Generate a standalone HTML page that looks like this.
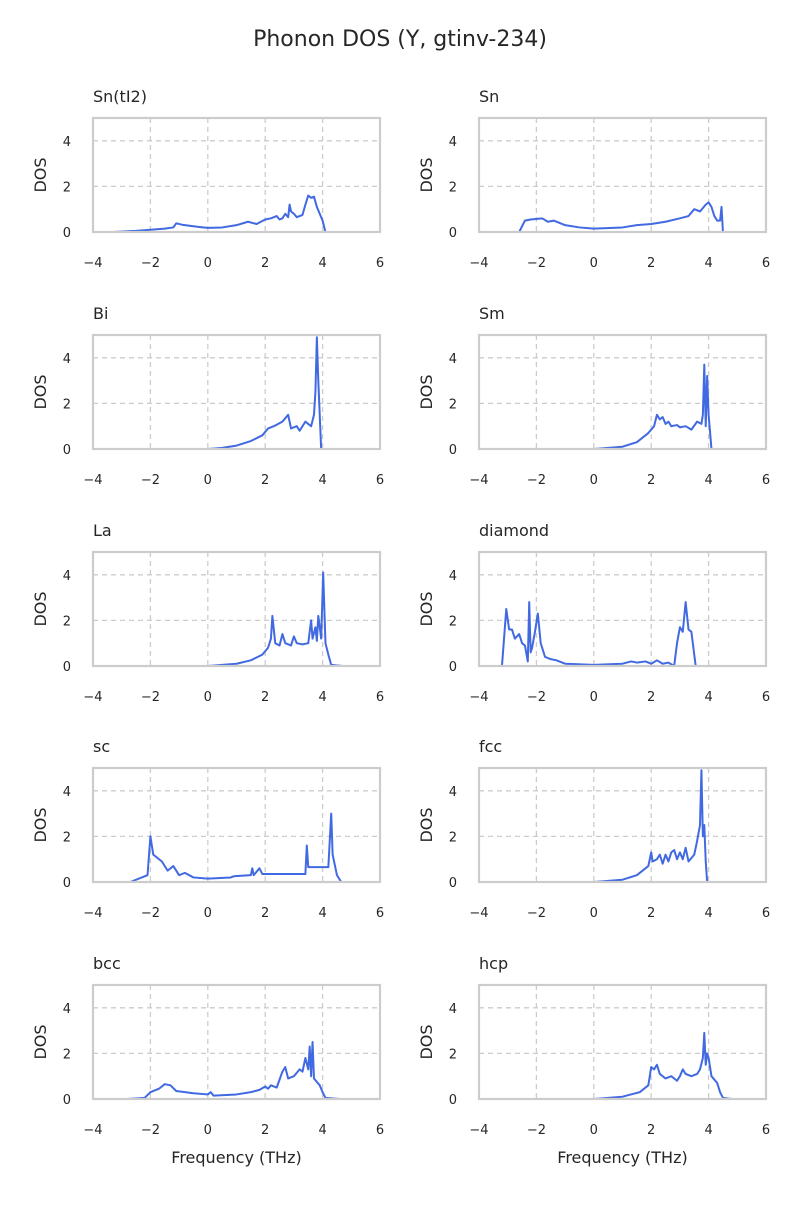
<!DOCTYPE html>
<html><head><meta charset="utf-8"><style>
body{margin:0;background:#fff;font-family:"Liberation Sans","DejaVu Sans",sans-serif}
svg text{font-family:"DejaVu Sans","Liberation Sans",sans-serif;fill:#262626}
</style></head><body>
<svg id="c" width="800" height="1200">
<text x="400" y="46" text-anchor="middle" font-size="22">Phonon DOS (Y, gtinv-234)</text>
</svg>
<script>
const panelNames=["Sn(tI2)","Sn","Bi","Sm","La","diamond","sc","fcc","bcc","hcp"];
const xTicks=[-4,-2,0,2,4,6];
const yTicks=[0,2,4];
const freqSnTI2=[-3.3,-2.5,-1.5,-1.2,-1.1,-0.9,-0.5,-0.3,0,0.5,1,1.4,1.7,2.0,2.2,2.4,2.5,2.6,2.7,2.8,2.85,2.9,3.0,3.1,3.3,3.4,3.5,3.6,3.7,3.8,3.9,4.0,4.1];
const dosSnTI2=[0,0.05,0.15,0.2,0.38,0.32,0.25,0.22,0.18,0.2,0.3,0.45,0.35,0.55,0.6,0.7,0.55,0.6,0.8,0.65,1.2,0.9,0.8,0.65,0.75,1.2,1.6,1.5,1.55,1.1,0.8,0.5,0];
const freqSn=[-2.6,-2.4,-2.2,-1.8,-1.6,-1.4,-1.0,-0.5,0,1,1.5,2,2.5,3,3.3,3.5,3.7,3.9,4.0,4.1,4.2,4.3,4.4,4.45,4.5];
const dosSn=[0,0.5,0.55,0.6,0.45,0.5,0.3,0.2,0.15,0.2,0.3,0.35,0.45,0.6,0.7,1.0,0.9,1.2,1.3,1.1,0.7,0.5,0.5,1.1,0];
const freqBi=[0,0.5,1,1.5,1.9,2.1,2.3,2.6,2.8,2.9,3.1,3.2,3.4,3.5,3.6,3.7,3.75,3.8,3.85,3.9,3.95];
const dosBi=[0,0.05,0.15,0.35,0.6,0.9,1.0,1.2,1.5,0.9,1.0,0.8,1.2,1.1,1.0,1.5,2.5,4.9,3.0,1.5,0];
const freqSm=[0,1,1.5,1.9,2.1,2.2,2.3,2.4,2.5,2.6,2.7,2.9,3.0,3.2,3.4,3.6,3.75,3.8,3.85,3.9,3.95,4.0,4.1];
const dosSm=[0,0.1,0.3,0.7,1.0,1.5,1.3,1.4,1.1,1.2,1.0,1.05,0.95,1.0,0.85,1.2,1.1,1.5,3.7,1.0,3.2,1.5,0];
const freqLa=[0,1,1.5,1.9,2.1,2.2,2.25,2.35,2.5,2.6,2.7,2.9,3.0,3.1,3.3,3.5,3.6,3.65,3.75,3.8,3.85,3.95,4.02,4.1,4.2,4.3,4.7];
const dosLa=[0,0.1,0.25,0.5,0.8,1.2,2.2,1.0,0.9,1.4,1.0,0.9,1.3,1.0,0.95,1.0,2.0,1.2,1.7,1.1,2.2,1.2,4.1,1.0,0.5,0.05,0];
const freqDiamond=[-3.9,-3.2,-3.05,-2.95,-2.85,-2.75,-2.6,-2.5,-2.4,-2.3,-2.25,-2.2,-2.15,-2.05,-1.95,-1.85,-1.7,-1.5,-1.3,-1,0,1,1.3,1.5,1.8,2.0,2.2,2.4,2.6,2.8,2.9,3.0,3.1,3.2,3.3,3.4,3.55,4];
const dosDiamond=[0,0,2.5,1.6,1.6,1.2,1.4,1.0,0.9,0.2,2.8,0.6,0.8,1.5,2.3,1.0,0.4,0.3,0.25,0.1,0.05,0.1,0.2,0.15,0.2,0.1,0.25,0.1,0.15,0,1.0,1.7,1.5,2.8,1.6,1.5,0,0];
const freqSc=[-2.7,-2.1,-2.0,-1.9,-1.6,-1.4,-1.2,-1,-0.8,-0.5,0,0.8,0.9,1.5,1.55,1.6,1.8,1.9,3.4,3.45,3.5,4.2,4.3,4.35,4.5,4.65,5.3];
const dosSc=[0,0.3,2.0,1.2,0.9,0.5,0.7,0.3,0.4,0.2,0.15,0.2,0.25,0.3,0.6,0.3,0.6,0.35,0.35,1.6,0.65,0.65,3.0,1.2,0.3,0,0];
const freqFcc=[0,1,1.5,1.9,2.0,2.05,2.2,2.3,2.4,2.5,2.6,2.7,2.8,2.9,3.0,3.1,3.2,3.3,3.5,3.6,3.7,3.75,3.8,3.85,3.9,3.95,4.3];
const dosFcc=[0,0.1,0.3,0.7,1.3,0.9,1.0,1.2,0.8,1.2,0.9,1.3,1.4,1.0,1.3,1.0,1.5,0.9,1.2,1.8,2.5,4.9,2.0,2.5,0.9,0,0];
const freqBcc=[-2.8,-2.2,-2,-1.7,-1.5,-1.3,-1.1,-0.5,0,0.1,0.2,1,1.5,1.8,2.0,2.1,2.2,2.4,2.6,2.7,2.8,3.0,3.2,3.3,3.4,3.5,3.55,3.6,3.65,3.7,3.9,4.0,4.1,4.6];
const dosBcc=[0,0.05,0.3,0.45,0.65,0.6,0.35,0.25,0.2,0.3,0.15,0.2,0.3,0.4,0.55,0.45,0.6,0.5,1.2,1.4,0.9,1.0,1.3,1.2,1.8,1.3,2.3,1.0,2.5,0.9,0.6,0.3,0.05,0];
const freqHcp=[0,1,1.6,1.9,2.0,2.1,2.2,2.3,2.5,2.7,2.9,3.0,3.1,3.2,3.4,3.6,3.7,3.8,3.85,3.9,3.95,4.0,4.1,4.3,4.4,4.5,4.8];
const dosHcp=[0,0.1,0.3,0.6,1.4,1.3,1.5,1.1,0.9,1.0,0.8,1.0,1.3,1.1,1.0,1.1,1.3,1.8,2.9,1.5,2.0,1.8,1.0,0.7,0.3,0.05,0];
const freqs=[freqSnTI2,freqSn,freqBi,freqSm,freqLa,freqDiamond,freqSc,freqFcc,freqBcc,freqHcp];
const doses=[dosSnTI2,dosSn,dosBi,dosSm,dosLa,dosDiamond,dosSc,dosFcc,dosBcc,dosHcp];
const tailEnds=[4.8,5.2,4.0,4.1,4.7,4,5.3,4.3,4.6,4.8];

const NS="http://www.w3.org/2000/svg";
const svg=document.getElementById('c');
function mk(tag,attrs,parent){const e=document.createElementNS(NS,tag);for(const k in attrs)e.setAttribute(k,attrs[k]);(parent||svg).appendChild(e);return e;}
const W=287,H=114,lefts=[93,479],tops=[118,335,552,768,985];
panelNames.forEach((name,i)=>{
  const L=lefts[i%2],T=tops[Math.floor(i/2)];
  const xs=v=>L+(v+4)/10*W, ys=v=>T+H-v/5*H;
  const g=mk('g',{});
  
  
  xTicks.forEach(t=>{
    if(t>-4&&t<6){const l=mk('line',{x1:xs(t),x2:xs(t),y1:T,y2:T+H,stroke:'#cccccc','stroke-width':1.3,'stroke-dasharray':'5,4'},g);
    
    }
    const tx=mk('text',{x:xs(t),y:T+H+35,'text-anchor':'middle','font-size':13},g);tx.textContent=t<0?'\u2212'+(-t):t;
    
    
  });
  yTicks.forEach(t=>{
    if(t>0){const l=mk('line',{x1:L,x2:L+W,y1:ys(t),y2:ys(t),stroke:'#cccccc','stroke-width':1.3,'stroke-dasharray':'5,4'},g);
    
    }
    const ty=mk('text',{x:L-22,y:ys(t)+5,'text-anchor':'end','font-size':13},g);ty.textContent=t;
    
    
  });
  const fr=freqs[i],ds=doses[i];
  const tail=mk('line',{x1:xs(fr[0]),x2:xs(tailEnds[i]),y1:ys(0),y2:ys(0),stroke:'#b0c0f0','stroke-width':1.8},g);
  
  
  const p=mk('polyline',{points:fr.map((f,k)=>xs(f)+','+ys(ds[k])).join(' '),fill:'none',stroke:'#4169e1','stroke-width':2,'stroke-linejoin':'round'},g);
  
  
  const fr2=mk('rect',{x:L,y:T,width:W,height:H,fill:'none',stroke:'#cccccc','stroke-width':2.2},g);
  
  
  const ti=mk('text',{x:L,y:T-16,'font-size':16},g);ti.textContent=name;
  
  
  const yl=mk('text',{x:0,y:0,'font-size':16,'text-anchor':'middle',transform:`translate(${L-47},${T+H/2}) rotate(-90)`},g);yl.textContent='DOS';
  
  
  if(i>=8){const xl=mk('text',{x:L+W/2,y:T+H+64,'text-anchor':'middle','font-size':16},g);xl.textContent='Frequency (THz)';
  
  }
});
</script>
</body></html>
